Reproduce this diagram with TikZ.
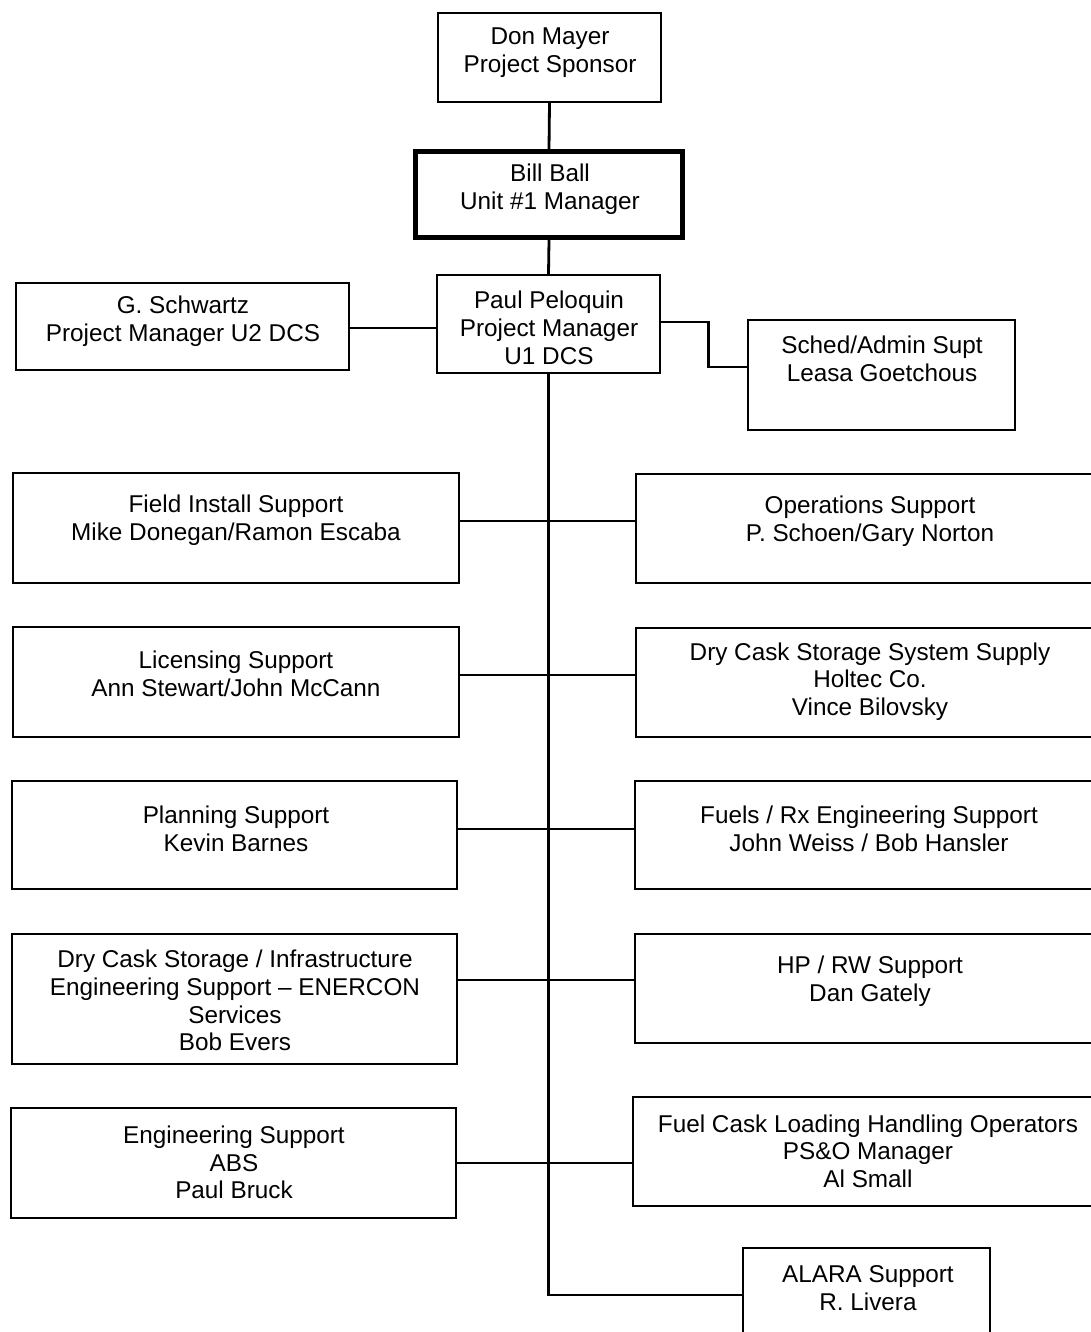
\documentclass[tikz,border=0pt]{standalone}
\usepackage{fontspec}
\setmainfont{Liberation Sans}
\begin{document}
\begin{tikzpicture}[x=1pt,y=-1pt,
  box/.style={draw, line width=2.3pt, rectangle, inner sep=0pt},
  thickbox/.style={draw, line width=5pt, rectangle, inner sep=0pt},
  txt/.style={align=center, inner sep=0pt, font=\fontsize{24.3}{27.7}\selectfont},
  conn/.style={line width=2.8pt}]
\useasboundingbox (0,0) rectangle (1091,1332);
\clip (0,0) rectangle (1091,1332);
% boxes
\node[box, minimum width=223pt, minimum height=89pt] (don) at (549.5,57.5) {};
\node[thickbox, minimum width=267pt, minimum height=86pt] (bill) at (549,194.5) {};
\node[box, minimum width=223pt, minimum height=98pt] (paul) at (548.5,324) {};
\node[box, minimum width=333pt, minimum height=87pt] (schw) at (182.5,326.5) {};
\node[box, minimum width=267pt, minimum height=110pt] (sched) at (881.5,375) {};
\node[box, minimum width=446pt, minimum height=110pt] (field) at (236,528) {};
\node[box, minimum width=446pt, minimum height=110pt] (lic) at (236,682) {};
\node[box, minimum width=445pt, minimum height=108pt] (plan) at (234.5,835) {};
\node[box, minimum width=445pt, minimum height=130pt] (dcinf) at (234.5,999) {};
\node[box, minimum width=445pt, minimum height=110pt] (abs) at (233.5,1163) {};
\node[box, minimum width=468pt, minimum height=109pt] (ops) at (870,528.5) {};
\node[box, minimum width=468pt, minimum height=109pt] (dcss) at (870,682.5) {};
\node[box, minimum width=469pt, minimum height=108pt] (fuels) at (869.5,835) {};
\node[box, minimum width=469pt, minimum height=109pt] (hprw) at (869.5,988.5) {};
\node[box, minimum width=471pt, minimum height=109pt] (fcl) at (868.5,1151.5) {};
\node[box, minimum width=247pt, minimum height=112pt] (alara) at (866.5,1304) {};
% texts
\node[txt] (tdon) at (550,53) {Don Mayer\\Project Sponsor};
\node[txt] (tbill) at (550,189) {Bill Ball\\Unit \#1 Manager};
\node[txt] (tpaul) at (549,328) {Paul Peloquin\\Project Manager\\U1 DCS};
\node[txt] (tschw) at (183,321) {G. Schwartz\\Project Manager U2 DCS};
\node[txt] (tsched) at (882,359) {Sched/Admin Supt\\Leasa Goetchous};
\node[txt] (tfield) at (236,520.5) {Field Install Support\\Mike Donegan/Ramon Escaba};
\node[txt] (tlic) at (236,674) {Licensing Support\\Ann Stewart/John McCann};
\node[txt] (tplan) at (236,828.5) {Planning Support\\Kevin Barnes};
\node[txt] (tdcinf) at (235,1000.5) {Dry Cask Storage / Infrastructure\\Engineering Support -- ENERCON\\Services\\Bob Evers};
\node[txt] (tabs) at (234,1162.5) {Engineering Support\\ABS\\Paul Bruck};
\node[txt] (tops) at (870,521.5) {Operations Support\\P. Schoen/Gary Norton};
\node[txt] (tdcss) at (870,681.5) {Dry Cask Storage System Supply\\Holtec Co.\\Vince Bilovsky};
\node[txt] (tfuels) at (869,828.5) {Fuels / Rx Engineering Support\\John Weiss / Bob Hansler};
\node[txt] (thprw) at (870,981) {HP / RW Support\\Dan Gately};
\node[txt] (tfcl) at (868,1151) {Fuel Cask Loading Handling Operators\\PS\&O Manager\\Al Small};
\node[txt] (talara) at (868,1288) {ALARA Support\\R. Livera};
% connectors
\draw[conn] (don.south) -- (bill.north);
\draw[conn] (bill.south) -- (paul.north);
\draw[conn] ([yshift=-1.5pt]schw.east) -- ([yshift=-1.5pt]schw.east -| paul.west);
\draw[conn] ([yshift=2pt]paul.east) -- ++(47,0) |- ([yshift=8pt]sched.west);
\coordinate (tb) at (548.5,1295);
\draw[conn] (paul.south) -- (tb) -- (tb -| alara.west);
\draw[conn] ([yshift=7pt]field.east) -- ([yshift=7pt]field.east -| ops.west);
\draw[conn] ([yshift=7pt]lic.east) -- ([yshift=7pt]lic.east -| dcss.west);
\draw[conn] ([yshift=6pt]plan.east) -- ([yshift=6pt]plan.east -| fuels.west);
\draw[conn] ([yshift=19pt]dcinf.east) -- ([yshift=19pt]dcinf.east -| hprw.west);
\draw[conn] (abs.east) -- (abs.east -| fcl.west);
\end{tikzpicture}
\end{document}
